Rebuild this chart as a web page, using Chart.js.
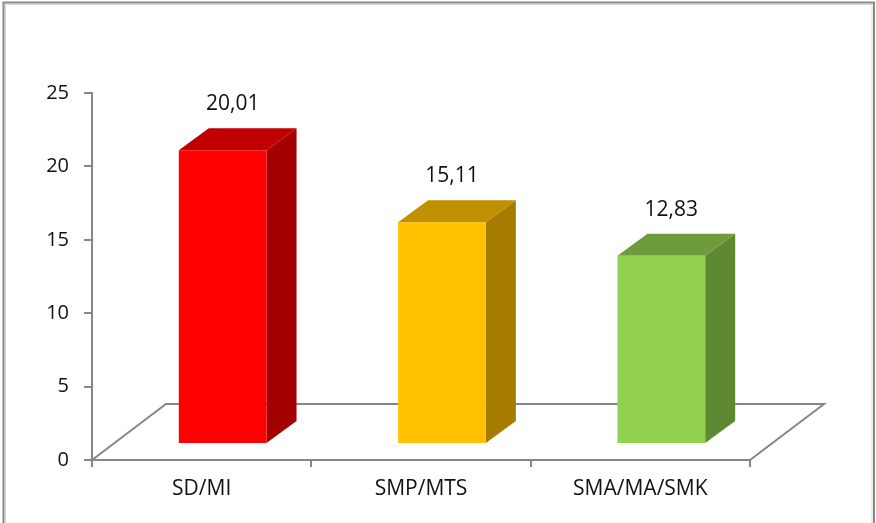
<!DOCTYPE html>
<html>
<head>
<meta charset="utf-8">
<script src="https://cdn.jsdelivr.net/npm/chart.js@4.4.0/dist/chart.umd.min.js"></script>
<style>
  html, body { margin: 0; padding: 0; background: #fff; }
  #wrap { width: 876px; height: 523px; position: relative; }
</style>
</head>
<body>
<div id="wrap"><canvas id="eduChart" width="876" height="523"></canvas></div>
<script>
var categories = ["SD/MI", "SMP/MTS", "SMA/MA/SMK"];
var values = [20.01, 15.11, 12.83];
var valueLabels = ["20,01", "15,11", "12,83"];

var frontColors = ["#FF0000", "#FFC000", "#92D050"];
var sideColors = ["#A50000", "#A67C00", "#5E8832"];
var topColors = ["#C00000", "#C09000", "#6E9C3A"];
var axisGray = "#868686";

// 3d offsets (px)
var floorDepth = { x: 74, y: -56 };
var barShift = { x: 21, y: -16 };
var barDepth = { x: 30, y: -22 };

var frame3d = {
    id: "frame3d",
    beforeDraw: function (chart) {
        var ctx = chart.ctx;
        ctx.save();
        ctx.fillStyle = "#fff";
        ctx.fillRect(0, 0, chart.width, chart.height);
        ctx.strokeStyle = "#8a8a8a";
        ctx.lineWidth = 2;
        ctx.strokeRect(3.5, 2.5, 870.5, 600);
        ctx.strokeStyle = "#d6d6d6";
        ctx.lineWidth = 1;
        ctx.strokeRect(5.5, 4.5, 866.5, 600);
        ctx.restore();
    },
    beforeDatasetsDraw: function (chart) {
        var ctx = chart.ctx;
        var area = chart.chartArea;
        var y0 = chart.scales.y.getPixelForValue(0);
        ctx.save();
        ctx.strokeStyle = axisGray;
        ctx.lineWidth = 2;
        ctx.beginPath();
        ctx.moveTo(area.left, y0);
        ctx.lineTo(area.left + floorDepth.x, y0 + floorDepth.y);
        ctx.lineTo(area.right + floorDepth.x, y0 + floorDepth.y);
        ctx.lineTo(area.right, y0);
        ctx.stroke();
        ctx.restore();
    },
    afterDatasetsDraw: function (chart) {
        var ctx = chart.ctx;
        var meta = chart.getDatasetMeta(0);
        ctx.save();
        meta.data.forEach(function (bar, i) {
            var l = bar.x - bar.width / 2 + barShift.x;
            var r = bar.x + bar.width / 2 + barShift.x;
            var t = bar.y + barShift.y;
            var b = bar.base + barShift.y;
            // side
            ctx.fillStyle = sideColors[i];
            ctx.beginPath();
            ctx.moveTo(r, t);
            ctx.lineTo(r + barDepth.x, t + barDepth.y);
            ctx.lineTo(r + barDepth.x, b + barDepth.y);
            ctx.lineTo(r, b);
            ctx.closePath();
            ctx.fill();
            // top
            ctx.fillStyle = topColors[i];
            ctx.beginPath();
            ctx.moveTo(l, t);
            ctx.lineTo(l + barDepth.x, t + barDepth.y);
            ctx.lineTo(r + barDepth.x, t + barDepth.y);
            ctx.lineTo(r, t);
            ctx.closePath();
            ctx.fill();
            // front
            ctx.fillStyle = frontColors[i];
            ctx.fillRect(l, t, r - l, b - t);

            // value label
            ctx.fillStyle = "#111";
            ctx.font = "21px 'Open Sans'";
            ctx.textAlign = "center";
            ctx.textBaseline = "middle";
            ctx.fillText(valueLabels[i], bar.x + barShift.x + 10, t - 46);
        });
        ctx.restore();
    }
};

new Chart("eduChart", {
    type: "bar",
    data: {
        labels: categories,
        datasets: [{
            data: values,
            backgroundColor: "rgba(0,0,0,0)",
            borderWidth: 0,
            barPercentage: 0.4,
            categoryPercentage: 1
        }]
    },
    options: {
        responsive: false,
        animation: false,
        layout: {
            padding: { top: 93, right: 126, bottom: 0, left: 0 }
        },
        plugins: {
            legend: { display: false },
            tooltip: { enabled: false }
        },
        scales: {
            y: {
                min: 0,
                max: 25,
                afterFit: function (scale) { scale.width = 92; },
                ticks: {
                    stepSize: 5,
                    padding: 15,
                    color: "#111",
                    font: { family: "'Open Sans'", size: 20 }
                },
                grid: {
                    drawOnChartArea: false,
                    tickLength: 8,
                    color: axisGray,
                    lineWidth: 2
                },
                border: { color: axisGray, width: 2 }
            },
            x: {
                afterFit: function (scale) { scale.height = 63; },
                ticks: {
                    padding: 9,
                    color: "#111",
                    font: { family: "'Open Sans'", size: 21 }
                },
                grid: {
                    drawOnChartArea: false,
                    tickLength: 7,
                    color: axisGray,
                    lineWidth: 2
                },
                border: { color: axisGray, width: 2 }
            }
        }
    },
    plugins: [frame3d]
});
</script>
</body>
</html>
